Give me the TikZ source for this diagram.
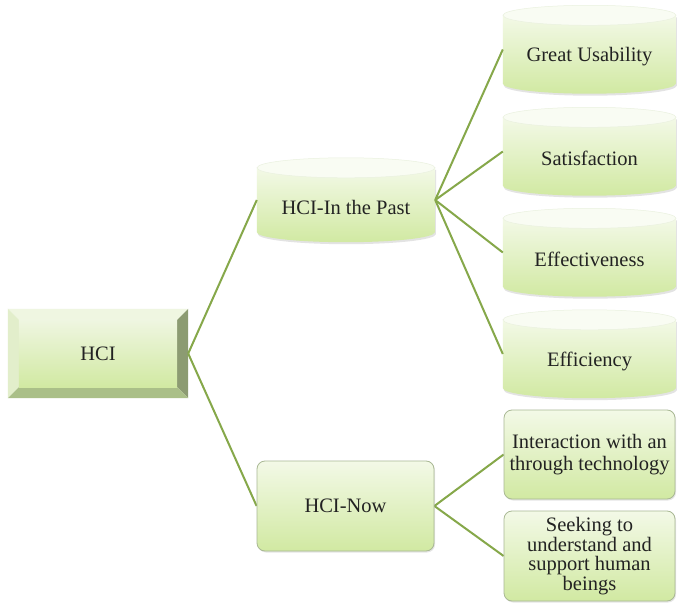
\documentclass[tikz,border=0pt]{standalone}
\usepackage{fontspec}
\setmainfont{Liberation Serif}
\usetikzlibrary{calc,backgrounds,shadows}

\definecolor{linkgreen}{HTML}{86A84A}
\definecolor{textgray}{HTML}{222222}
\definecolor{paletop}{HTML}{F3F9E7}
\definecolor{limebottom}{HTML}{D1E9A2}
\definecolor{capface}{HTML}{F9FCF3}
\definecolor{capedge}{HTML}{EAF1DF}
\definecolor{boxedge}{HTML}{A9B894}
\definecolor{bevtop}{HTML}{EFF6E1}
\definecolor{bevleft}{HTML}{E2EECB}
\definecolor{bevright}{HTML}{8C9B72}
\definecolor{bevbottom}{HTML}{AABF88}

\tikzset{
  box/.style={inner sep=0pt, align=center, text=textgray,
    font=\fontsize{20.5}{22}\selectfont},
  cylnode/.style={box, minimum width=173pt, minimum height=88pt},
  rbox/.style={box, rounded corners=8pt, draw=boxedge, line width=0.8pt,
    top color=paletop, bottom color=limebottom,
    drop shadow={shadow xshift=1pt, shadow yshift=-1.5pt, opacity=0.2}},
  cylbody/.style={top color=paletop, bottom color=limebottom,
    drop shadow={shadow xshift=1pt, shadow yshift=-2pt, opacity=0.22}},
  cyltop/.style={fill=capface, draw=capedge, line width=0.5pt},
  link/.style={draw=linkgreen, line width=2pt},
}

% label set a little below the middle, under the cylinder lid
\newcommand{\lowtext}[1]{\raisebox{-7pt}[\height][\depth]{#1}}

% cylinder body and lid behind a node; #1 node name, #2 half width
\newcommand{\cylbg}[2]{%
  \path[cylbody] ([yshift=-10pt]#1.north west) -- ([yshift=10pt]#1.south west)
    arc[start angle=180, end angle=360, x radius=#2, y radius=10pt]
    -- ([yshift=-10pt]#1.north east) -- cycle;
  \path[cyltop] ([yshift=-10pt]#1.north) ellipse[x radius=#2, y radius=10pt];
}

\begin{document}
\begin{tikzpicture}[x=1pt, y=1pt]
  \useasboundingbox (0,0) rectangle (677,603);

  % root
  \node[box, minimum width=180pt, minimum height=89pt] (hci) at (98,249.5) {HCI};

  % first level
  \node[box, minimum width=178pt, minimum height=84pt] (past) at (346,403)
    {\lowtext{HCI-In the Past}};
  \node[rbox, minimum width=177pt, minimum height=90pt] (now) at (345.5,97) {HCI-Now};

  % qualities of the past
  \node[cylnode] (usab) at (589.5,553.5) {\lowtext{Great Usability}};
  \node[cylnode] (sat)  at (589.5,451.5) {\lowtext{Satisfaction}};
  \node[cylnode] (eff)  at (589.5,350.5) {\lowtext{Effectiveness}};
  \node[cylnode] (effi) at (589.5,249)   {\lowtext{Efficiency}};

  % aims of the present
  \node[rbox, minimum width=171pt, minimum height=89pt] (inter) at (589.5,148.5)
    {Interaction with an\\through technology};
  \node[rbox, minimum width=171pt, minimum height=90pt, font=\fontsize{20.5}{19.5}\selectfont]
    (seek) at (589.5,47)
    {Seeking to\\understand and\\support human\\beings};

  \begin{pgfonlayer}{background}
    \fill[white] (0,0) rectangle (677,603);

    % bevelled root box
    \fill[bevtop] (hci.north west) -- (hci.north east)
      -- ([shift={(-11pt,-11pt)}]hci.north east) -- ([shift={(11pt,-11pt)}]hci.north west) -- cycle;
    \fill[bevleft] (hci.north west) -- ([shift={(11pt,-11pt)}]hci.north west)
      -- ([shift={(11pt,11pt)}]hci.south west) -- (hci.south west) -- cycle;
    \fill[bevright] (hci.north east) -- (hci.south east)
      -- ([shift={(-11pt,11pt)}]hci.south east) -- ([shift={(-11pt,-11pt)}]hci.north east) -- cycle;
    \fill[bevbottom] (hci.south west) -- ([shift={(11pt,11pt)}]hci.south west)
      -- ([shift={(-11pt,11pt)}]hci.south east) -- (hci.south east) -- cycle;
    \shade[top color=bevtop, bottom color=limebottom]
      ([shift={(11pt,-11pt)}]hci.north west) rectangle ([shift={(-11pt,11pt)}]hci.south east);

    % cylinders
    \cylbg{past}{89pt}
    \cylbg{usab}{86.5pt}
    \cylbg{sat}{86.5pt}
    \cylbg{eff}{86.5pt}
    \cylbg{effi}{86.5pt}

    % connectors
    \draw[link] (hci.east) -- (past.west);
    \draw[link] (hci.east) -- (now.west);
    \draw[link] (past.east) -- (usab.west);
    \draw[link] (past.east) -- (sat.west);
    \draw[link] (past.east) -- (eff.west);
    \draw[link] (past.east) -- (effi.west);
    \draw[link] (now.east) -- (inter.west);
    \draw[link] (now.east) -- (seek.west);
  \end{pgfonlayer}
\end{tikzpicture}
\end{document}
